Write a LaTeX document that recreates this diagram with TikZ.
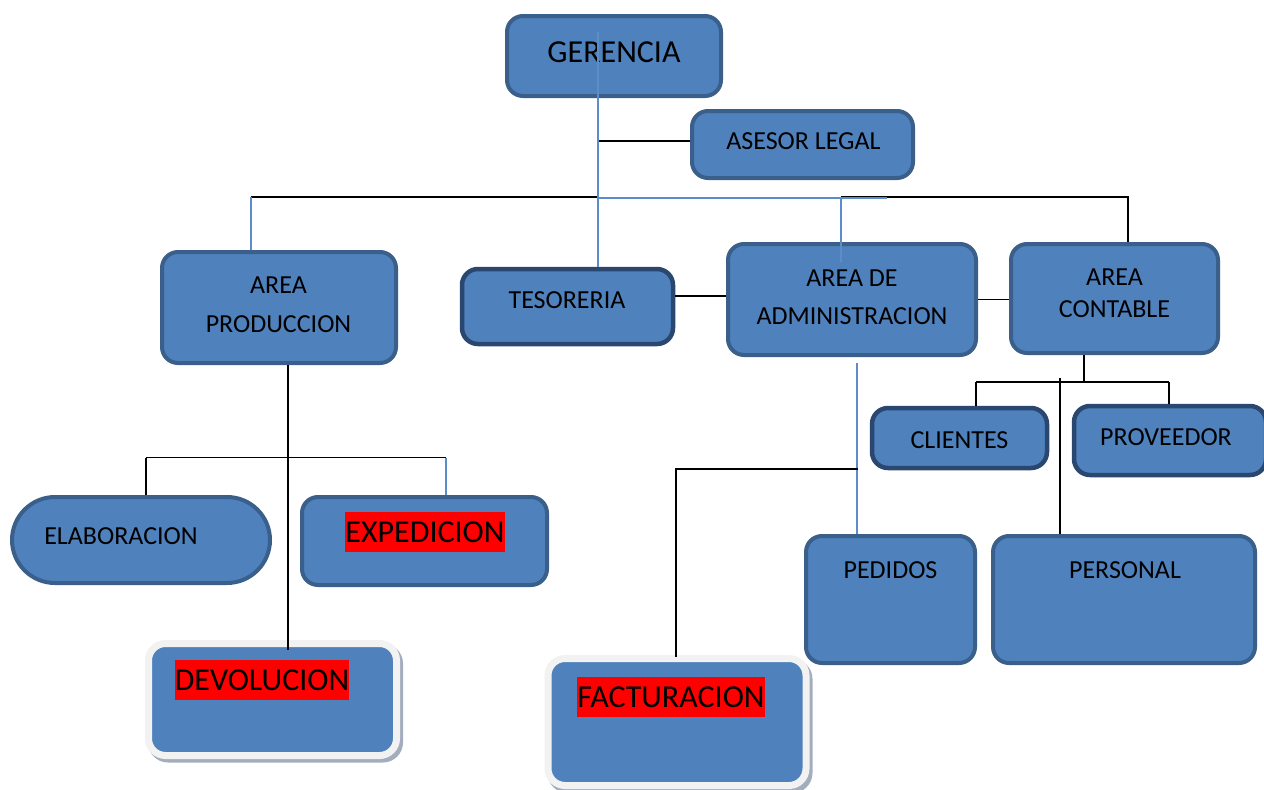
\documentclass[tikz,border=0pt]{standalone}
\usepackage{fontspec}
\setmainfont{Carlito}
\usetikzlibrary{shapes.misc,calc}
\definecolor{fillc}{HTML}{4F81BD}
\definecolor{linec}{HTML}{5B8DCA}
\definecolor{bordc}{HTML}{3A5F8B}
\definecolor{darkc}{HTML}{2A4770}
\definecolor{liteb}{HTML}{F2F2F2}
\definecolor{shc}{HTML}{A3ADBD}
\tikzset{
  box/.style={draw=bordc, line width=4pt, fill=fillc, rounded corners=16pt, inner sep=0pt, rectangle},
  darkbox/.style={box, draw=darkc, line width=4.5pt},
  litebox/.style={draw=liteb, line width=7pt, fill=fillc, rounded corners=17pt, inner sep=0pt, rectangle},
  shbox/.style={fill=shc, rounded corners=20pt, inner sep=0pt, rectangle},
  stadium/.style={draw=bordc, line width=4pt, fill=fillc, rounded rectangle, inner sep=0pt},
  lbl/.style={inner sep=0pt, font=\fontsize{26}{31}\selectfont, text height=16.7pt, text depth=0pt},
  biglbl/.style={inner sep=0pt, font=\fontsize{32}{38}\selectfont, text height=20.6pt, text depth=0pt},
  redlbl/.style={inner sep=0pt, fill=red, font=\fontsize{32}{38}\selectfont, text height=30.5pt, text depth=8.6pt},
  conn/.style={draw=black, line width=1.8pt},
  bconn/.style={draw=linec, line width=1.8pt}
}
\begin{document}
\begin{tikzpicture}[x=1pt,y=-1pt]
\useasboundingbox (0,0) rectangle (1264,790);
% boxes
\node[box, minimum width=214pt, minimum height=80pt] (ger) at (614,56) {};
\node[box, minimum width=221pt, minimum height=67pt] (ase) at (802.5,144.5) {};
\node[box, minimum width=234pt, minimum height=111pt] (prod) at (279,307.5) {};
\node[darkbox, minimum width=211pt, minimum height=75pt] (tes) at (567.5,306.5) {};
\node[box, minimum width=248pt, minimum height=111pt] (adm) at (852,299.5) {};
\node[box, minimum width=207pt, minimum height=109pt] (con) at (1114.5,298.5) {};
\node[darkbox, minimum width=175pt, minimum height=60pt] (cli) at (959.5,438) {};
\node[darkbox, minimum width=192pt, minimum height=69pt] (prov) at (1170,440.5) {};
\node[stadium, minimum width=258pt, minimum height=86pt] (elab) at (141,540) {};
\node[box, minimum width=245pt, minimum height=88pt] (exped) at (424.5,541) {};
\node[shbox, minimum width=255pt, minimum height=119pt] (devS) at (275.5,703) {};
\node[litebox, minimum width=248pt, minimum height=112pt] (devol) at (272.5,699.5) {};
\node[shbox, minimum width=265pt, minimum height=134pt] (facS) at (680,726) {};
\node[litebox, minimum width=258pt, minimum height=127pt] (fact) at (677,722) {};
\node[box, minimum width=169pt, minimum height=127pt] (ped) at (890.5,599.5) {};
\node[box, minimum width=262pt, minimum height=127pt] (pers) at (1124,599.5) {};
% labels
\node[biglbl] (gerT) at (614,52) {GERENCIA};
\node[lbl] (aseT) at (803.5,141.5) {ASESOR LEGAL};
\node[lbl] (prodT1) at (278.5,285.5) {AREA};
\node[lbl] (prodT2) at (278.5,324) {PRODUCCION};
\node[lbl] (tesT) at (567,300) {TESORERIA};
\node[lbl] (admT1) at (852,278) {AREA DE};
\node[lbl] (admT2) at (852,316) {ADMINISTRACION};
\node[lbl] (conT1) at (1114.5,277.5) {AREA};
\node[lbl] (conT2) at (1114.5,309.5) {CONTABLE};
\node[lbl] (cliT) at (959.5,440) {CLIENTES};
\node[lbl] (provT) at (1166,437.5) {PROVEEDOR};
\node[lbl] (elabT) at (121,536.5) {ELABORACION};
\node[redlbl] (expT) at (425,532) {EXPEDICION};
\node[redlbl] (devT) at (262,680) {DEVOLUCION};
\node[redlbl] (facT) at (671,697) {FACTURACION};
\node[lbl] (pedT) at (890.5,570) {PEDIDOS};
\node[lbl] (persT) at (1125,570) {PERSONAL};
% junction coordinates
\coordinate (t0) at (598,32);
\coordinate (jA) at (598,141);
\coordinate (jB) at (598,197);
\coordinate (pb) at (251,197);
\coordinate (ab) at (841,198);
\coordinate (abE) at (887,198);
\coordinate (abD) at (841,262);
\coordinate (cb) at (1128,197);
\coordinate (ta) at (675,296);
\coordinate (pv) at (288,365);
\coordinate (pd) at (288,650);
\coordinate (pbL) at (146,457.5);
\coordinate (pbR) at (446,457.5);
\coordinate (cj) at (1084,382);
\coordinate (cL) at (976,382);
\coordinate (cR) at (1169,382);
\coordinate (pp) at (1060,378);
\coordinate (pe) at (857,363);
\coordinate (fj) at (858,469);
\coordinate (fc) at (676,469);
% connectors
\draw[conn] (jA) -- (jA -| ase.west);
\draw[conn] (pb) -- (jB);
\draw[conn] (ab |- cb) -- (cb) -- (cb |- con.north);
\draw[bconn] (t0) -- (t0 |- tes.north);
\draw[bconn] (jB |- ab) -- (abE);
\draw[bconn] (ab) -- (abD);
\draw[bconn] (pb) -- (pb |- prod.north);
\draw[conn] (ta) -- (ta -| adm.west);
\draw[conn] (adm.east) -- (adm.east -| con.west);
\draw[conn] (pv |- prod.south) -- (pd);
\draw[conn] (pbL) -- (pbR);
\draw[conn] (pbL) -- (pbL |- elab.north);
\draw[bconn] (pbR) -- (pbR |- exped.north);
\draw[conn] (cj |- con.south) -- (cj);
\draw[conn] (cL) -- (cR);
\draw[conn] (cL) -- (cL |- cli.north);
\draw[conn] (cR) -- (cR |- prov.north);
\draw[conn] (pp) -- (pp |- pers.north);
\draw[bconn] (pe) -- (pe |- ped.north);
\draw[conn] (fj) -- (fc) -- ($(fc |- fact.north)+(0,2)$);
\end{tikzpicture}
\end{document}
